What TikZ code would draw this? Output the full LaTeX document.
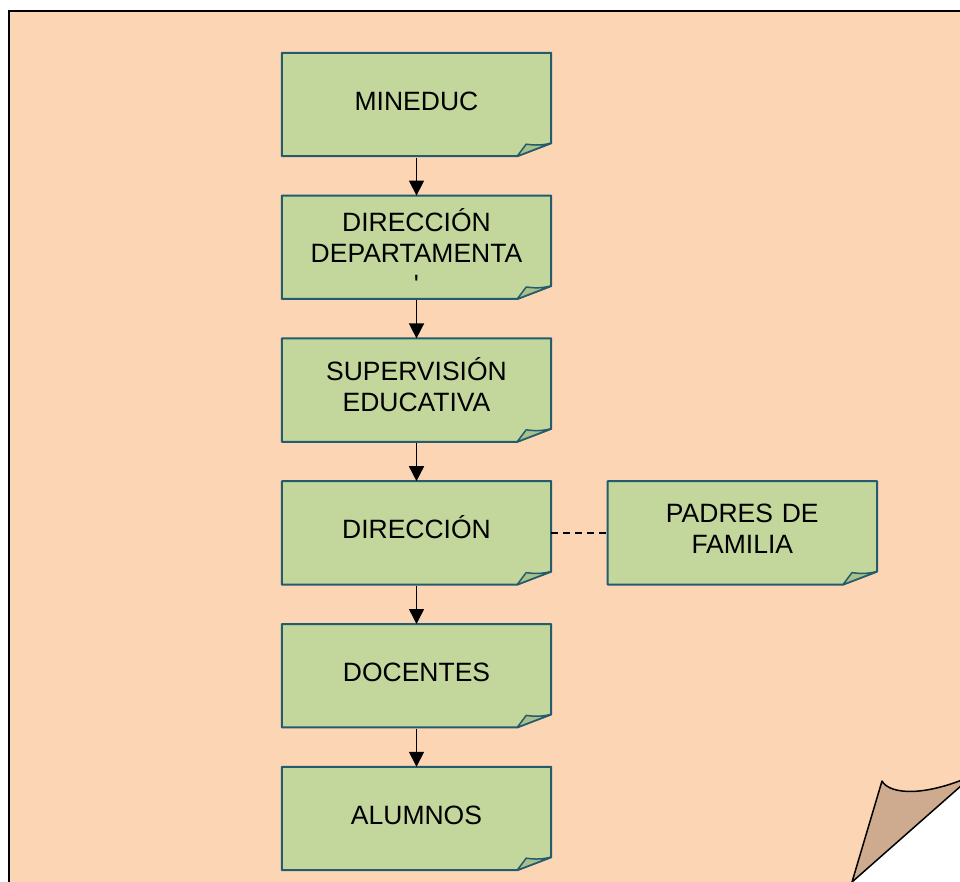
\documentclass[tikz,border=0pt]{standalone}
\usepackage{fontspec}
\setmainfont{Liberation Sans}
\usetikzlibrary{positioning,arrows.meta,backgrounds}
\definecolor{paper}{RGB}{252,213,181}
\definecolor{curl}{RGB}{206,171,143}
\definecolor{cardfill}{RGB}{195,214,155}
\definecolor{cardfold}{RGB}{168,192,140}
\definecolor{cardedge}{RGB}{35,92,108}

\begin{document}
\begin{tikzpicture}[x=1pt,y=1pt,node distance=142.8pt,
  card/.style={minimum width=269pt,minimum height=103pt,inner sep=0pt,
    text width=262pt,align=center,font=\fontsize{26.5}{31}\selectfont,
    text height=19pt,text depth=7pt},
  cardline/.style={draw=cardedge,fill=cardfill,line width=2pt,line join=round},
  link/.style={-{Triangle[length=15pt,width=15pt]},line width=1.5pt,shorten <=1.5pt}]
  \useasboundingbox (0,0) rectangle (960,-882);
  \clip (0,0) rectangle (960,-882);

  \node[card] (1) at (416.5,-104.5) {MINEDUC};
  \node[card,below of=1,text depth=51pt] (2) {DIRECCIÓN\\DEPARTAMENTA\\\textquotesingle\hspace*{8pt}};
  \node[card,below of=2,text depth=39pt] (3) {SUPERVISIÓN\\EDUCATIVA};
  \node[card,below of=3] (4) {DIRECCIÓN};
  \node[card,below of=4] (5) {DOCENTES};
  \node[card,below of=5] (6) {ALUMNOS};
  \node[card,right of=4,xshift=183pt,text depth=39pt] (7) {PADRES DE\\FAMILIA};

  % page and cards behind the text
  \begin{scope}[on background layer]
    \fill[paper] (9,-890) -- (9,-11) -- (970,-11) -- (970,-778) -- (843,-890) -- cycle;
    \draw[line width=2pt] (9,-890) -- (9,-11) -- (970,-11);
    \draw[fill=curl,line width=1.5pt,line join=round] (882,-781) .. controls (888,-792) and (915,-798) .. (962,-780)
      -- (962,-785) -- (852,-882) -- cycle;
    \foreach \n in {1,...,7} {
      \draw[cardline] (\n.north west) -- (\n.north east) -- ([yshift=13pt]\n.south east)
        -- ([xshift=-34pt]\n.south east) -- (\n.south west) -- cycle;
      \draw[cardline,fill=cardfold,line width=1.5pt] ([xshift=-34pt]\n.south east)
        -- ([xshift=-25pt,yshift=12pt]\n.south east) to[bend right=10] ([yshift=13pt]\n.south east) -- cycle;
    }
  \end{scope}

  \foreach \a/\b in {1/2,2/3,3/4,4/5,5/6}
    \draw[link] (\a) -- (\b);
  \draw[line width=1.5pt,dash pattern=on 7pt off 5pt] (4) -- (7);
\end{tikzpicture}
\end{document}
